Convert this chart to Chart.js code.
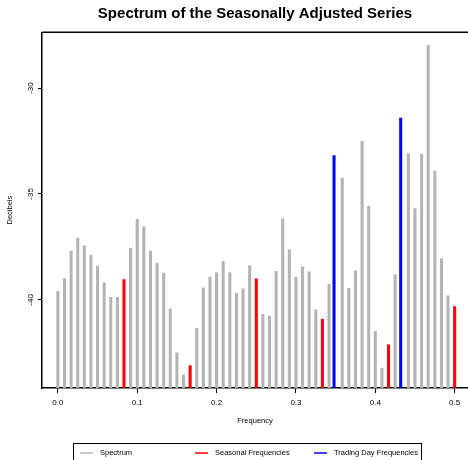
<!DOCTYPE html>
<html>
<head>
<meta charset="utf-8">
<script src="https://cdn.jsdelivr.net/npm/chart.js@4/dist/chart.umd.min.js"></script>
<style>
  html, body { margin: 0; padding: 0; background: #fff; overflow: hidden; }
</style>
</head>
<body>
<canvas id="spec-chart" width="468" height="460"></canvas>
<script>
// frequencies (cycles per month); 0.348 and 0.432 are the trading day frequencies
const freqs = [
    0, 0.00833, 0.01667, 0.025, 0.03333, 0.04167, 0.05, 0.05833, 0.06667, 0.075,
    0.08333, 0.09167, 0.1, 0.10833, 0.11667, 0.125, 0.13333, 0.14167, 0.15, 0.15833,
    0.16667, 0.175, 0.18333, 0.19167, 0.2, 0.20833, 0.21667, 0.225, 0.23333, 0.24167,
    0.25, 0.25833, 0.26667, 0.275, 0.28333, 0.29167, 0.3, 0.30833, 0.31667, 0.325,
    0.33333, 0.34167, 0.348, 0.35833, 0.36667, 0.375, 0.38333, 0.39167, 0.4, 0.40833,
    0.41667, 0.425, 0.432, 0.44167, 0.45, 0.45833, 0.46667, 0.475, 0.48333, 0.49167,
    0.5
];
// spectrum in decibels
const decibels = [
    -39.60, -39.00, -37.70, -37.08, -37.45, -37.90, -38.40, -39.20, -39.88, -39.88,
    -39.04, -37.55, -36.20, -36.54, -37.70, -38.27, -38.73, -40.42, -42.50, -43.54,
    -43.10, -41.34, -39.43, -38.93, -38.71, -38.18, -38.71, -39.69, -39.48, -38.38,
    -39.01, -40.68, -40.77, -38.65, -36.18, -37.64, -38.93, -38.44, -38.68, -40.47,
    -40.92, -39.25, -33.19, -34.25, -39.45, -38.63, -32.52, -35.58, -41.48, -43.22,
    -42.12, -38.81, -31.42, -33.10, -35.69, -33.13, -27.99, -33.92, -38.05, -39.81,
    -40.32
];
const seasonalIdx = [10, 20, 30, 40, 50, 60];
const tradingIdx = [42, 52];

const xTicks = [0, 0.1, 0.2, 0.3, 0.4, 0.5];
const yTicks = [-40, -35, -30];
const Y_MIN = -44.16;
const Y_MAX = -27.37;

const legendItems = [
    { label: 'Spectrum', color: '#b4b4b4' },
    { label: 'Seasonal Frequencies', color: '#ff0000' },
    { label: 'Trading Day Frequencies', color: '#0000ff' }
];

Chart.defaults.font.family = '"Liberation Sans", Arial, Helvetica, sans-serif';
Chart.defaults.color = '#000';

function pointsFor(pred) {
    const out = [];
    freqs.forEach((f, i) => { if (pred(i)) out.push({ x: f, y: decibels[i] }); });
    return out;
}

const isSeasonal = i => seasonalIdx.includes(i);
const isTrading = i => tradingIdx.includes(i);

function barSet(label, data, color) {
    return {
        label, data,
        backgroundColor: color,
        borderWidth: 0,
        barThickness: 2.4,
        grouped: false,
        base: Y_MIN
    };
}

// top frame line + boxed legend at the bottom (R style)
const framePlugin = {
    id: 'frame',
    afterDraw(chart) {
        const { ctx, chartArea } = chart;
        ctx.save();
        ctx.strokeStyle = '#000';
        ctx.lineWidth = 1.5;
        ctx.beginPath();
        ctx.moveTo(chartArea.left, chartArea.top);
        ctx.lineTo(chartArea.right, chartArea.top);
        ctx.stroke();

        ctx.lineWidth = 1;
        ctx.strokeRect(73.5, 443.5, 348, 30);
        const starts = [80, 195, 314];
        ctx.font = '7.5px "Liberation Sans", Arial, sans-serif';
        ctx.textBaseline = 'middle';
        legendItems.forEach((it, i) => {
            ctx.strokeStyle = it.color;
            ctx.lineWidth = 1.5;
            ctx.beginPath();
            ctx.moveTo(starts[i], 453);
            ctx.lineTo(starts[i] + 13, 453);
            ctx.stroke();
            ctx.fillStyle = '#000';
            ctx.fillText(it.label, starts[i] + 20, 453);
        });
        ctx.restore();
    }
};

new Chart(document.getElementById('spec-chart'), {
    type: 'bar',
    data: {
        datasets: [
            barSet('Spectrum', pointsFor(i => !isSeasonal(i) && !isTrading(i)), legendItems[0].color),
            barSet('Seasonal Frequencies', pointsFor(isSeasonal), legendItems[1].color),
            barSet('Trading Day Frequencies', pointsFor(isTrading), legendItems[2].color)
        ]
    },
    options: {
        responsive: false,
        animation: false,
        devicePixelRatio: 1,
        layout: { padding: { left: 0, right: 0, top: 0, bottom: 32 } },
        plugins: {
            legend: { display: false },
            tooltip: { enabled: false },
            title: {
                display: true,
                fullSize: false,
                text: 'Spectrum of the Seasonally Adjusted Series',
                font: { size: 15, weight: 'bold' },
                color: '#000',
                padding: { top: 4.5, bottom: 9.8 }
            }
        },
        scales: {
            x: {
                type: 'linear',
                min: -0.02,
                max: 0.5168,
                offset: false,
                afterBuildTicks: s => { s.ticks = xTicks.map(v => ({ value: v })); },
                afterFit: s => { s.height = 40; },
                ticks: {
                    callback: v => v.toFixed(1),
                    font: { size: 8 },
                    color: '#000',
                    padding: 4.5,
                    maxRotation: 0,
                    autoSkip: false
                },
                grid: { drawOnChartArea: false, drawTicks: true, tickLength: 5, color: '#000', offset: false },
                border: { display: true, color: '#000', dash: [3, 3], width: 1.5 },
                title: {
                    display: true, text: 'Frequency', font: { size: 7.5 }, color: '#000',
                    padding: { top: 0, bottom: 3 }
                }
            },
            y: {
                min: Y_MIN,
                max: Y_MAX,
                afterBuildTicks: s => { s.ticks = yTicks.map(v => ({ value: v })); },
                afterFit: s => { s.width = 42; },
                ticks: {
                    font: { size: 8 },
                    color: '#000',
                    minRotation: 90,
                    maxRotation: 90,
                    crossAlign: 'center',
                    padding: 1
                },
                grid: { drawOnChartArea: false, tickLength: 4, color: '#000' },
                border: { display: true, color: '#000', width: 1.5 },
                title: {
                    display: true, text: 'Decibels', font: { size: 7.5 }, color: '#000',
                    padding: { top: 5.5, bottom: 0 }
                }
            }
        }
    },
    plugins: [framePlugin]
});
</script>
</body>
</html>
